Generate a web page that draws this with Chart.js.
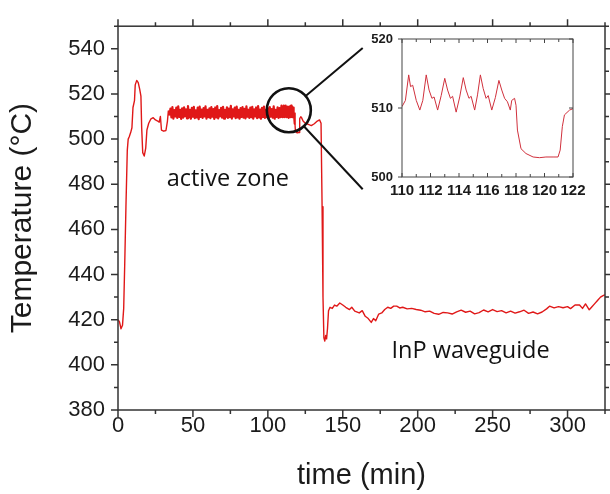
<!DOCTYPE html>
<html>
<head>
<meta charset="utf-8">
<script src="https://cdn.jsdelivr.net/npm/chart.js@4.4.1/dist/chart.umd.min.js"></script>
<style>
  body { margin: 0; background: #fff; }
  #wrap { position: relative; width: 610px; height: 494px; }
  #inset { position: absolute; left: 340px; top: 20px; }
</style>
</head>
<body>
<div id="wrap">
  <canvas id="mainChart" width="610" height="494"></canvas>
  <canvas id="inset" width="270" height="190"></canvas>
</div>
<script>
// heating ramp before the active zone
const startTime = [0, 1, 2, 3, 3.8, 4.5, 5.3, 6.2, 6.8, 7.5, 8.5, 9.3, 10, 11, 11.5, 12.5, 13.5, 14.5, 15.3, 15.8,
  16.5, 17.5, 18.5, 19.3, 20.5, 22, 23.5, 25, 26.5, 27.5, 28.3, 29, 30.5, 32, 33, 33.6, 34.3];
const startTemp = [420, 419, 416, 417.5, 425, 445, 470, 495, 500, 501, 503, 505, 514, 517, 524, 526, 525, 522, 519, 505,
  494, 492.5, 496, 504, 507, 509, 509.5, 508.5, 508, 507.5, 510, 504, 503.5, 503.8, 508, 512.5, 510.5];

// active zone oscillation, one sample every 0.65 min from 35 min
const activeStart = 35;
const activeStep = 0.65;
const activeTemp = [
  513.5, 509.6, 514.2, 509.1, 512.8, 510.0, 513.9, 509.4, 514.5, 509.8, 512.9, 508.9, 513.6, 509.5, 514.1, 510.1,
  513.2, 509.2, 514.6, 509.7, 513.0, 509.0, 513.8, 509.9, 514.3, 509.3, 512.7, 509.6, 513.9, 508.8, 514.4, 509.8,
  513.1, 509.4, 513.7, 510.0, 514.5, 509.1, 512.9, 509.7, 513.6, 509.3, 514.2, 509.9, 513.3, 508.9, 514.0, 509.6,
  514.6, 509.2, 512.8, 510.1, 513.8, 509.5, 514.3, 509.0, 513.0, 509.8, 514.1, 509.4, 513.5, 509.7, 514.7, 509.1,
  513.2, 510.0, 513.9, 509.3, 514.4, 509.6, 512.9, 509.0, 513.7, 509.8, 514.2, 509.5, 513.4, 509.2, 514.5, 509.9,
  513.0, 509.4, 513.9, 509.7, 514.3, 509.1, 513.2, 510.0, 514.0, 509.3, 514.6, 509.6, 513.1, 509.0, 513.8, 509.8,
  514.4, 509.4, 512.9, 509.7, 513.6, 509.2, 514.2, 509.9, 513.3, 509.5, 514.5, 509.0, 513.0, 509.8, 514.1, 509.4,
  513.7, 509.7, 514.8, 509.7
];

// zoomed window 110-122 min (also shown in the inset)
const zoomTime = [110, 110.24, 110.47, 110.6, 110.75, 111, 111.25, 111.46, 111.7, 111.9, 112.1, 112.25, 112.5,
  112.75, 113.0, 113.2, 113.4, 113.55, 113.8, 114.05, 114.3, 114.5, 114.7, 114.85, 115.1, 115.3, 115.5, 115.7,
  115.9, 116.05, 116.3, 116.55, 116.8, 117.0, 117.2, 117.4, 117.6, 117.7, 117.9, 118.0, 118.1, 118.35, 118.7,
  119.2, 119.65, 120.1, 120.6, 120.95, 121.1, 121.25, 121.4, 121.76, 122];
const zoomTemp = [510.2, 511.1, 514.8, 513.1, 513.3, 511.1, 509.7, 511.1, 514.8, 512.6, 511.4, 511.6, 509.7,
  511.8, 514.3, 512.6, 511.4, 511.7, 509.4, 511.6, 514.4, 512.6, 511.4, 511.7, 509.7, 511.9, 514.8, 512.8,
  511.4, 511.8, 509.7, 511.5, 514.0, 512.6, 511.4, 510.9, 509.7, 511.1, 511.4, 510.4, 506.8, 504.1, 503.4,
  502.9, 502.8, 502.9, 502.9, 502.9, 503.9, 507.3, 509.0, 509.7, 509.9];

// cool down and InP waveguide growth
const endTime = [122.5, 123.5, 125, 127, 129, 131, 133, 134.5, 135.5, 136.2, 136.8, 137.4, 138, 138.6, 139.2, 139.8,
  140.5, 141.5, 143, 144.5, 146, 148, 150, 152, 154.5, 156, 158, 161, 163, 165, 167, 169, 170.5, 172, 174, 176,
  178, 180, 182, 184, 186, 188, 190, 193, 196, 199, 202, 205, 208, 211, 214, 217, 220, 223, 226, 229, 232, 235,
  238, 241, 244, 247, 250, 253, 256, 259, 262, 265, 268, 271, 274, 277, 280, 283, 286, 288, 291, 294, 297, 300,
  302, 305, 308, 310, 312, 314.5, 316, 318, 320, 322, 324, 325];
const endTemp = [509.5, 508, 507, 506.5, 506, 506.8, 508, 508.5, 507, 470, 430, 412, 410.5, 413, 411.5, 416,
  424, 425.5, 425, 426.5, 426, 427.4, 426.5, 425.5, 424.5, 425.5, 423.8, 423, 424, 421.5, 420.5, 418.8, 420.5, 419.5, 422.5, 423,
  424.5, 425.5, 425, 426, 426, 425.2, 425.5, 424.8, 425, 424.5, 424.2, 423.5, 423.8, 422.8, 422.4, 423.2, 423, 422.5, 423.5, 424.2, 423.3, 423.8,
  422.6, 423.1, 424.3, 423.5, 424.5, 423.6, 424, 423, 423.8, 422.9, 423.5, 424.2, 422.8, 423.4, 422.6, 423.4, 424.8, 426, 425.2, 425.8, 425.3, 425.8,
  424.9, 426.5, 426.5, 425, 427, 424.4, 425.5, 427, 428.5, 430, 430.8, 431];

const activeTime = activeTemp.map((v, i) => +(activeStart + i * activeStep).toFixed(2));
const mainTime = startTime.concat(activeTime, zoomTime, endTime);
const mainTemp = startTemp.concat(activeTemp, zoomTemp, endTemp);

const textColor = '#1b1b1b';
const sans = '"Liberation Sans", Arial, sans-serif';

// axis frame with major / minor tick marks on all four sides
const frameTicks = {
  id: 'frameTicks',
  afterDraw(chart, args, opts) {
    const {ctx, chartArea: a, scales: {x, y}} = chart;
    ctx.save();
    ctx.strokeStyle = opts.color;
    ctx.lineWidth = opts.width;
    ctx.strokeRect(a.left, a.top, a.right - a.left, a.bottom - a.top);
    ctx.beginPath();
    for (const t of x.ticks) {
      const px = x.getPixelForValue(t.value);
      const len = t.value % opts.xMajor === 0 ? opts.major : opts.minor;
      ctx.moveTo(px, a.bottom); ctx.lineTo(px, a.bottom + len * opts.bottom);
      ctx.moveTo(px, a.top); ctx.lineTo(px, a.top - len * opts.top);
    }
    for (const t of y.ticks) {
      const py = y.getPixelForValue(t.value);
      const len = t.value % opts.yMajor === 0 ? opts.major : opts.minor;
      ctx.moveTo(a.left, py); ctx.lineTo(a.left - len * opts.left, py);
      ctx.moveTo(a.right, py); ctx.lineTo(a.right + len * opts.right, py);
    }
    ctx.stroke();
    ctx.restore();
  }
};

// magnifier circle, connector lines and the two zone labels
const zoomMarker = {
  id: 'zoomMarker',
  afterDatasetsDraw(chart, args, opts) {
    const {ctx, scales: {x, y}} = chart;
    const cx = x.getPixelForValue(opts.center[0]);
    const cy = y.getPixelForValue(opts.center[1]);
    ctx.save();
    ctx.strokeStyle = '#111';
    ctx.lineWidth = 2.6;
    ctx.beginPath();
    ctx.arc(cx, cy, opts.radius, 0, Math.PI * 2);
    ctx.stroke();
    ctx.lineWidth = 2;
    for (const end of opts.connectors) {
      const ex = x.getPixelForValue(end[0]);
      const ey = y.getPixelForValue(end[1]);
      const d = Math.hypot(ex - cx, ey - cy);
      ctx.beginPath();
      ctx.moveTo(cx + (ex - cx) / d * opts.radius, cy + (ey - cy) / d * opts.radius);
      ctx.lineTo(ex, ey);
      ctx.stroke();
    }
    ctx.fillStyle = '#111';
    ctx.font = '23.5px "Open Sans", sans-serif';
    ctx.textAlign = 'center';
    ctx.textBaseline = 'middle';
    for (const n of opts.notes) {
      ctx.fillText(n.text, x.getPixelForValue(n.at[0]), y.getPixelForValue(n.at[1]));
    }
    ctx.restore();
  }
};

// the dense oscillation reads as a solid red band, so draw it a bit heavier
const inActiveZone = ctx => ctx.p0.parsed.x >= 34 && ctx.p1.parsed.x <= 118.1;

new Chart(document.getElementById('mainChart'), {
  type: 'scatter',
  data: {
    datasets: [{
      data: mainTime.map((t, i) => ({x: t, y: mainTemp[i]})),
      showLine: true,
      borderColor: '#e01818',
      borderWidth: 1.4,
      borderJoinStyle: 'round',
      segment: {borderWidth: ctx => inActiveZone(ctx) ? 2.2 : 1.4},
      pointRadius: 0
    }]
  },
  options: {
    responsive: false,
    animation: false,
    layout: {padding: {top: 16, right: 5}},
    plugins: {
      legend: {display: false},
      tooltip: {enabled: false},
      frameTicks: {color: '#333', width: 1.5, major: 7, minor: 4, xMajor: 50, yMajor: 20,
        bottom: 1, top: 1, left: 1, right: 1},
      zoomMarker: {
        center: [114, 512.8], radius: 22,
        connectors: [[163.3, 540.3], [163.3, 477.8]],
        notes: [{text: 'active zone', at: [73.3, 482.2]}, {text: 'InP waveguide', at: [235.3, 406.2]}]
      }
    },
    scales: {
      x: {
        type: 'linear', min: 0, max: 325,
        border: {display: false},
        grid: {display: false, drawTicks: false},
        ticks: {stepSize: 25, autoSkip: false, maxRotation: 0, padding: 3, color: textColor,
          font: {family: sans, size: 22}, callback: v => v % 50 === 0 ? v : ''},
        title: {display: true, text: 'time (min)', color: textColor,
          font: {family: sans, size: 29}, padding: {top: 0, bottom: 1}},
        afterFit: s => { s.height = 84; }
      },
      y: {
        min: 380, max: 550,
        border: {display: false},
        grid: {display: false, drawTicks: false},
        ticks: {stepSize: 10, autoSkip: false, padding: 13, color: textColor,
          font: {family: sans, size: 22}, callback: v => v % 20 === 0 ? v : ''},
        title: {display: true, text: 'Temperature (°C)', color: textColor,
          font: {family: sans, size: 30}, padding: {top: 5, bottom: 0}},
        afterFit: s => { s.width = 118; }
      }
    }
  },
  plugins: [frameTicks, zoomMarker]
});

new Chart(document.getElementById('inset'), {
  type: 'scatter',
  data: {
    datasets: [{
      data: zoomTime.map((t, i) => ({x: t, y: zoomTemp[i]})),
      showLine: true,
      borderColor: '#d0303c',
      borderWidth: 1,
      pointRadius: 0
    }]
  },
  options: {
    responsive: false,
    animation: false,
    layout: {padding: {top: 19, right: 37}},
    plugins: {
      legend: {display: false},
      tooltip: {enabled: false},
      frameTicks: {color: '#444', width: 1, major: 4, minor: 3, xMajor: 2, yMajor: 10,
        bottom: -1, top: -1, left: 1, right: -1}
    },
    scales: {
      x: {
        type: 'linear', min: 110, max: 122,
        border: {display: false},
        grid: {display: false, drawTicks: false},
        ticks: {stepSize: 1, autoSkip: false, maxRotation: 0, padding: 5, color: textColor,
          font: {family: sans, size: 15, weight: 'bold'}, callback: v => v % 2 === 0 ? v : ''},
        afterFit: s => { s.height = 33; }
      },
      y: {
        min: 500, max: 520,
        border: {display: false},
        grid: {display: false, drawTicks: false},
        ticks: {stepSize: 10, autoSkip: false, padding: 9, color: textColor,
          font: {family: sans, size: 13, weight: 'bold'}},
        afterFit: s => { s.width = 62; }
      }
    }
  },
  plugins: [frameTicks]
});
</script>
</body>
</html>
